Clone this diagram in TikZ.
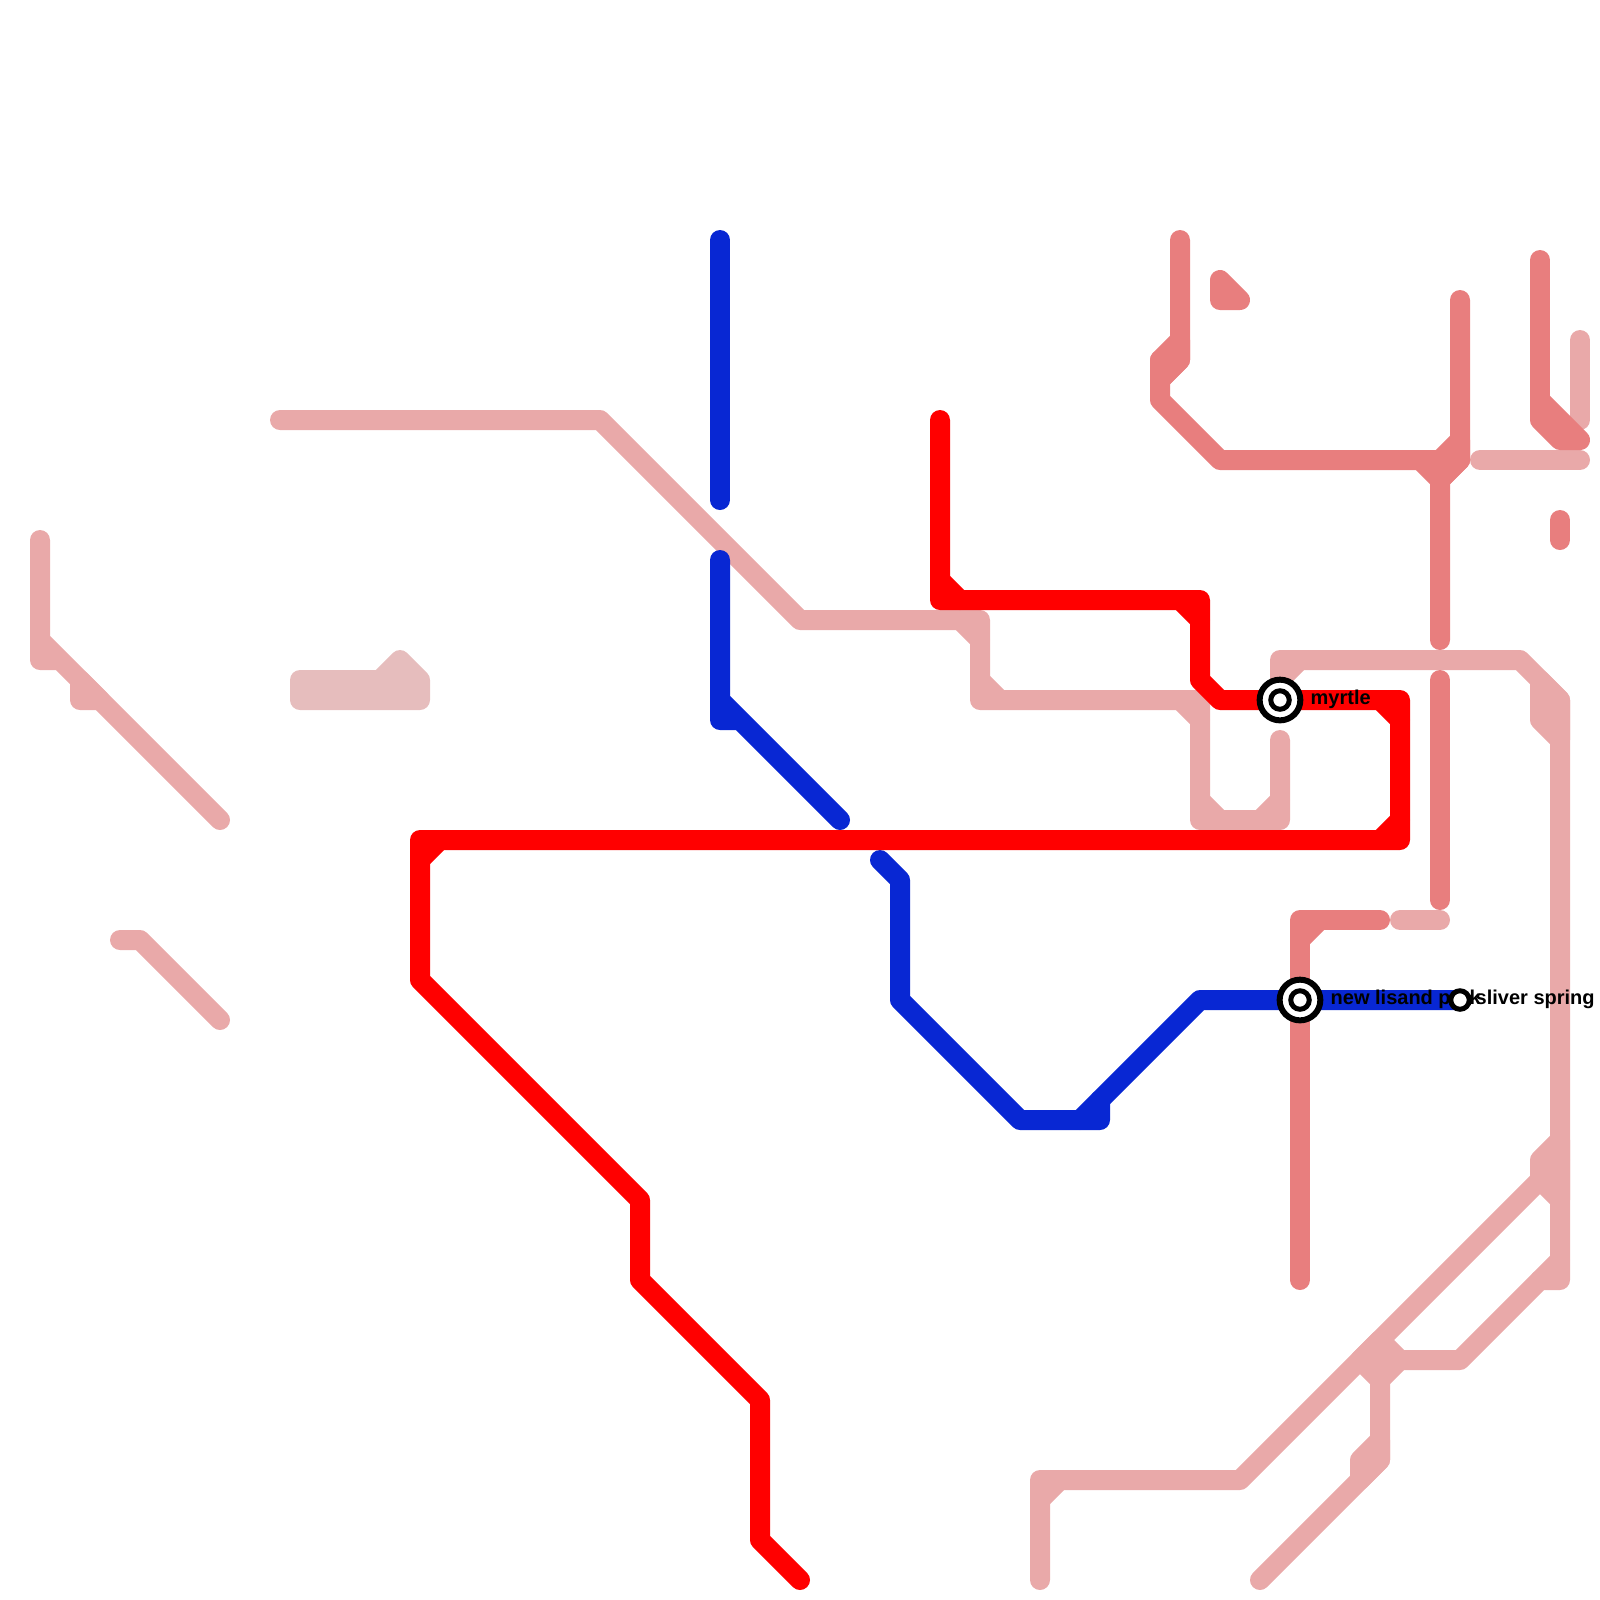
\documentclass[tikz,border=0pt]{standalone}
\usepackage{fontspec}
\setmainfont{Liberation Sans}
\definecolor{linered}{HTML}{FF0000}
\definecolor{lineblue}{HTML}{0827D3}
\definecolor{linerose}{HTML}{E87E7E}
\definecolor{linepink}{HTML}{E9A9A9}
\definecolor{linepale}{HTML}{E6BDBD}
\tikzset{
  metro/.style={line width=2mm,line cap=round,line join=round},
  stationlabel/.style={font=\fontsize{5.69}{6}\bfseries\selectfont,text=black,anchor=west,inner sep=0pt},
  ringbig/.style={circle,draw=black,line width=0.6mm,fill=white,minimum size=4.07cm/10,inner sep=0pt},
  ringmid/.style={circle,draw=black,line width=0.5mm,fill=white,minimum size=1.85cm/10,inner sep=0pt},
}
\begin{document}
\begin{tikzpicture}[x=0.2cm,y=-0.2cm]
\useasboundingbox (0,0) rectangle (80,80);
% pale block
\draw[metro,linepale,fill=linepale] (15,34)--(19,34)--(20,33)--(21,34)--(21,35)--(15,35)--cycle;
% pink lines, left side
\draw[metro,linepink] (2,27)--(2,33)--(3,33)--(2,32)--(11,41);
\draw[metro,linepink,fill=linepink] (4,34)--(4,35)--(5,35)--cycle;
\draw[metro,linepink] (6,47)--(7,47)--(11,51);
\draw[metro,linepink] (14,21)--(30,21)--(40,31)--(49,31)--(49,35)--(60,35)--(60,41)--(64,41)--(64,37);
\draw[metro,linepink] (48,31)--(49,32);
\draw[metro,linepink] (49,34)--(50,35);
\draw[metro,linepink] (59,35)--(60,36);
\draw[metro,linepink] (60,40)--(61,41);
\draw[metro,linepink] (63,41)--(64,40);
% pink lines, right side
\draw[metro,linepink] (64,34)--(64,33)--(76,33)--(78,35)--(78,64)--(77,64)--(73,68)--(70,68);
\draw[metro,linepink] (78,63)--(77,64);
\draw[metro,linepink] (64,34)--(65,33);
\draw[metro,linepink,fill=linepink] (77,34)--(77,36)--(78,37)--(78,35)--cycle;
\draw[metro,linepink] (70,46)--(72,46);
\draw[metro,linepink] (74,23)--(79,23);
\draw[metro,linepink] (79,17)--(79,21);
\draw[metro,linepink] (52,79)--(52,74)--(62,74)--(78,58);
\draw[metro,linepink] (52,75)--(53,74);
\draw[metro,linepink,fill=linepink] (78,57)--(77,58)--(77,59)--(78,60)--cycle;
\draw[metro,linepink,fill=linepink] (68,68)--(69,67)--(70,68)--(69,69)--cycle;
\draw[metro,linepink] (69,69)--(69,73)--(63,79);
\draw[metro,linepink,fill=linepink] (69,72)--(68,73)--(68,74)--(69,73)--cycle;
% rose lines
\draw[metro,linerose] (59,12)--(59,18)--(58,19);
\draw[metro,linerose,fill=linerose] (59,17)--(58,18)--(58,19)--(59,18)--cycle;
\draw[metro,linerose] (58,18)--(58,20)--(61,23)--(73,23);
\draw[metro,linerose,fill=linerose] (61,14)--(61,15)--(62,15)--cycle;
\draw[metro,linerose] (73,15)--(73,23)--(72,24)--(72,32);
\draw[metro,linerose,fill=linerose] (73,22)--(72,23)--(71,23)--(72,24)--(73,23)--cycle;
\draw[metro,linerose] (77,13)--(77,20);
\draw[metro,linerose,fill=linerose] (77,20)--(79,22)--(78,22)--(77,21)--cycle;
\draw[metro,linerose] (78,26)--(78,27);
\draw[metro,linerose] (72,34)--(72,45);
\draw[metro,linerose] (69,46)--(65,46)--(65,64);
\draw[metro,linerose] (65,47)--(66,46);
% blue lines
\draw[metro,lineblue] (36,12)--(36,25);
\draw[metro,lineblue] (36,28)--(36,36)--(37,36)--(36,35)--(42,41);
\draw[metro,lineblue] (44,43)--(45,44)--(45,50)--(51,56)--(55,56)--(55,55);
\draw[metro,lineblue] (54,56)--(60,50)--(73,50);
% red line
\draw[metro,linered] (47,21)--(47,30)--(60,30)--(60,34)--(61,35)--(70,35)--(70,42)--(21,42)--(21,49)--(32,60)--(32,64)--(38,70)--(38,77)--(40,79);
\draw[metro,linered] (47,29)--(48,30);
\draw[metro,linered] (59,30)--(60,31);
\draw[metro,linered] (69,35)--(70,36);
\draw[metro,linered] (70,41)--(69,42);
\draw[metro,linered] (21,43)--(22,42);
% stations
\node[ringbig] (myrtleouter) at (64,35) {};
\node[ringmid] (myrtle) at (64,35) {};
\node[stationlabel] (myrtlelabel) at (65.5,34.95) {myrtle};
\node[ringbig] (lisandouter) at (65,50) {};
\node[ringmid] (lisand) at (65,50) {};
\node[stationlabel] (lisandlabel) at (66.5,49.95) {new lisand park};
\node[ringmid] (sliver) at (73,50) {};
\node[stationlabel] (sliverlabel) at (73.75,49.95) {sliver spring};
\end{tikzpicture}
\end{document}
